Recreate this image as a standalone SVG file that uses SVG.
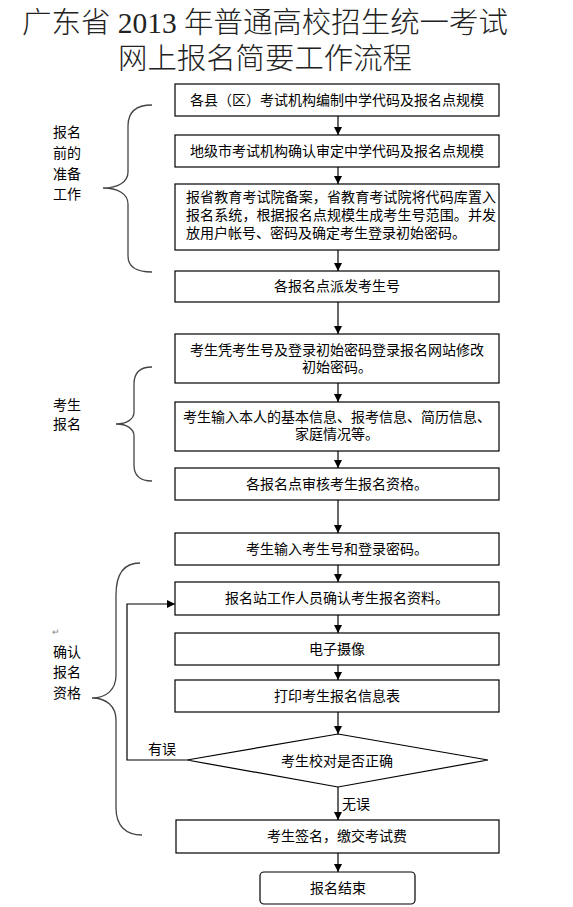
<svg xmlns="http://www.w3.org/2000/svg" width="573" height="907" viewBox="0 0 573 907">
<defs>
<marker id="ah" markerWidth="8" markerHeight="8" refX="8" refY="4" orient="auto" markerUnits="userSpaceOnUse">
<path d="M0,0 L8,4 L0,8 Z" fill="#000"/>
</marker>
<style>
.box{fill:#fff;stroke:#000;stroke-width:1.2}
.t{font-family:"Liberation Sans","Noto Sans CJK SC",sans-serif;font-size:14px;fill:#000}
.c{text-anchor:middle;dominant-baseline:central}
.title{font-family:"Liberation Serif","Noto Sans CJK SC",serif;font-size:29px;fill:#222;text-anchor:middle;font-weight:300}
.ln{fill:none;stroke:#000;stroke-width:1.2}
.br{fill:none;stroke:#444;stroke-width:1.3}
</style>
</defs>
<rect width="573" height="907" fill="#fff"/>
<g id="title">
<text class="title" x="265" y="33" textLength="486" lengthAdjust="spacingAndGlyphs">广东省 2013 年普通高校招生统一考试</text>
<text class="title" x="265" y="69" textLength="294" lengthAdjust="spacingAndGlyphs">网上报名简要工作流程</text>
</g>
<g id="braces">
<path class="br" d="M152,105 C136,105 128,112 128,126 L128,172 C128,182 118,188 103,188 C118,188 128,194 128,204 L128,256 C128,266 136,272 152,272"/>
<path class="br" d="M152,367 C140,367 134,373 134,384 L134,412 C134,419 127,424 116,424 C127,424 134,429 134,436 L134,465 C134,475 140,481 152,481"/>
<path class="br" d="M140,563 C124,563 116,574 116,595 L116,675 C116,690 106,698 92,698 C106,698 116,706 116,720 L116,808 C116,826 126,835 142,835"/>
</g>
<g id="side-labels">
<text class="t c" x="67" y="132">报名</text>
<text class="t c" x="67" y="153">前的</text>
<text class="t c" x="67" y="174">准备</text>
<text class="t c" x="67" y="194">工作</text>
<text class="t c" x="67" y="405">考生</text>
<text class="t c" x="67" y="424">报名</text>
<text class="t c" x="56" y="632" style="font-size:9px;fill:#888">↵</text>
<text class="t c" x="67" y="652">确认</text>
<text class="t c" x="67" y="672">报名</text>
<text class="t c" x="67" y="693">资格</text>
</g>
<g id="connectors">
<line class="ln" x1="338" y1="116" x2="338" y2="135" marker-end="url(#ah)"/>
<line class="ln" x1="338" y1="167" x2="338" y2="184" marker-end="url(#ah)"/>
<line class="ln" x1="338" y1="250" x2="338" y2="271" marker-end="url(#ah)"/>
<line class="ln" x1="338" y1="302" x2="338" y2="334" marker-end="url(#ah)"/>
<line class="ln" x1="338" y1="383" x2="338" y2="402" marker-end="url(#ah)"/>
<line class="ln" x1="338" y1="451" x2="338" y2="468" marker-end="url(#ah)"/>
<line class="ln" x1="338" y1="500" x2="338" y2="533" marker-end="url(#ah)"/>
<line class="ln" x1="338" y1="565" x2="338" y2="582" marker-end="url(#ah)"/>
<line class="ln" x1="338" y1="615" x2="338" y2="633" marker-end="url(#ah)"/>
<line class="ln" x1="338" y1="665" x2="338" y2="680" marker-end="url(#ah)"/>
<line class="ln" x1="338" y1="712" x2="338" y2="734" marker-end="url(#ah)"/>
<line class="ln" x1="338" y1="787" x2="338" y2="820" marker-end="url(#ah)"/>
<line class="ln" x1="338" y1="853" x2="338" y2="872" marker-end="url(#ah)"/>
<polyline class="ln" points="187,760 127,760 127,604 175,604" marker-end="url(#ah)"/>
<text class="t c" x="162" y="749">有误</text>
<text class="t c" x="356" y="804">无误</text>
</g>
<g id="n1"><rect class="box" x="175" y="84" width="324" height="32"/><text class="t c" x="337" y="100">各县（区）考试机构编制中学代码及报名点规模</text></g>
<g id="n2"><rect class="box" x="175" y="135" width="324" height="32"/><text class="t c" x="337" y="151">地级市考试机构确认审定中学代码及报名点规模</text></g>
<g id="n3"><rect class="box" x="175" y="184" width="324" height="66"/>
<text class="t" x="186" y="197" dominant-baseline="central" textLength="310" lengthAdjust="spacing">报省教育考试院备案，省教育考试院将代码库置入</text>
<text class="t" x="186" y="215" dominant-baseline="central" textLength="310" lengthAdjust="spacing">报名系统，根据报名点规模生成考生号范围。并发</text>
<text class="t" x="186" y="233" dominant-baseline="central">放用户帐号、密码及确定考生登录初始密码。</text></g>
<g id="n4"><rect class="box" x="175" y="271" width="324" height="31"/><text class="t c" x="337" y="286">各报名点派发考生号</text></g>
<g id="n5"><rect class="box" x="175" y="334" width="324" height="49"/><text class="t c" x="337" y="350">考生凭考生号及登录初始密码登录报名网站修改</text><text class="t c" x="337" y="367">初始密码。</text></g>
<g id="n6"><rect class="box" x="175" y="402" width="324" height="49"/><text class="t c" x="337" y="417">考生输入本人的基本信息、报考信息、简历信息、</text><text class="t c" x="337" y="434">家庭情况等。</text></g>
<g id="n7"><rect class="box" x="175" y="468" width="324" height="32"/><text class="t c" x="337" y="484">各报名点审核考生报名资格。</text></g>
<g id="n8"><rect class="box" x="175" y="533" width="324" height="32"/><text class="t c" x="337" y="549">考生输入考生号和登录密码。</text></g>
<g id="n9"><rect class="box" x="175" y="582" width="324" height="33"/><text class="t c" x="337" y="598">报名站工作人员确认考生报名资料。</text></g>
<g id="n10"><rect class="box" x="175" y="633" width="324" height="32"/><text class="t c" x="337" y="649">电子摄像</text></g>
<g id="n11"><rect class="box" x="175" y="680" width="324" height="32"/><text class="t c" x="337" y="696">打印考生报名信息表</text></g>
<g id="n12"><polygon class="box" points="338,734 488,760 338,787 187,760"/><text class="t c" x="337" y="761">考生校对是否正确</text></g>
<g id="n13"><rect class="box" x="176" y="820" width="323" height="33"/><text class="t c" x="337" y="836">考生签名，缴交考试费</text></g>
<g id="n14"><rect class="box" x="260" y="872" width="155" height="32" rx="4"/><text class="t c" x="338" y="888">报名结束</text></g>
</svg>
